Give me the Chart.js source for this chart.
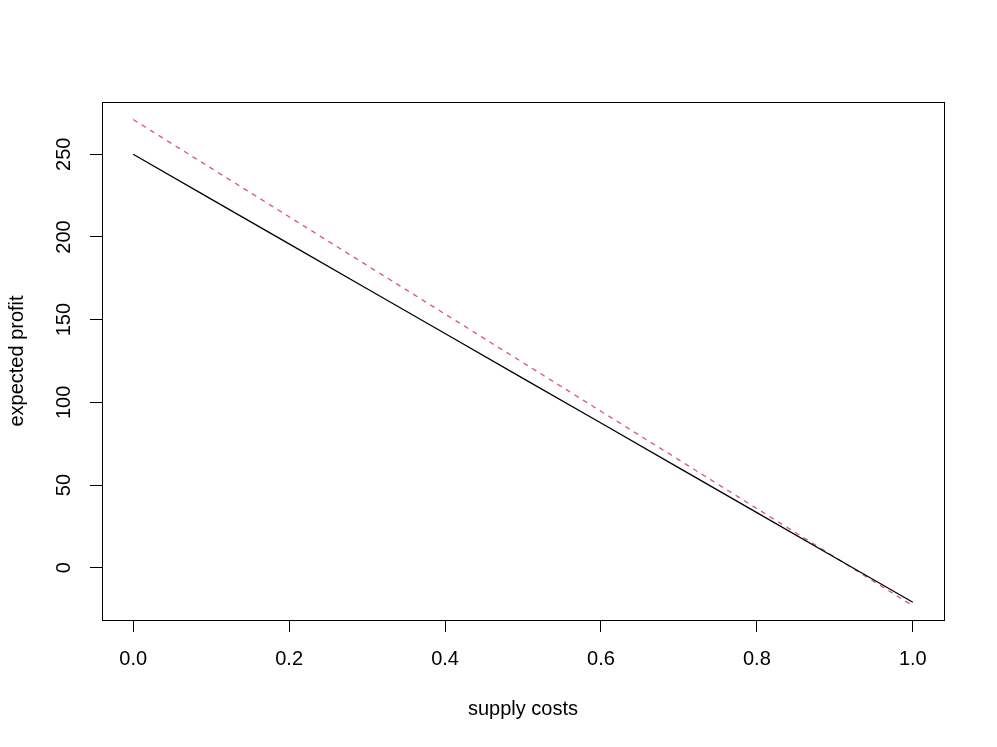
<!DOCTYPE html>
<html>
<head>
<meta charset="utf-8">
<script src="https://cdn.jsdelivr.net/npm/chart.js@4/dist/chart.umd.min.js"></script>
<style>
  html, body { margin: 0; padding: 0; background: #ffffff; }
  #wrap { width: 997px; height: 747px; }
</style>
</head>
<body>
<div id="wrap"><canvas id="c" width="997" height="747"></canvas></div>
<script>
// ---- data ----
const supplyCosts = [0.0, 0.1, 0.2, 0.3, 0.4, 0.5, 0.6, 0.7, 0.8, 0.9, 1.0];
const profitSolid = [250.0, 222.9, 195.8, 168.7, 141.6, 114.5, 87.5, 60.4, 33.3, 6.2, -20.9];
const profitDashed = [271.0, 241.6, 212.2, 182.8, 153.4, 124.0, 94.6, 65.2, 35.8, 6.4, -23.0];
const xTicks = [0.0, 0.2, 0.4, 0.6, 0.8, 1.0];
const yTicks = [0, 50, 100, 150, 200, 250];
const xTitle = 'supply costs';
const yTitle = 'expected profit';

const FONT = '"Liberation Sans", Arial, Helvetica, sans-serif';

const boxPlugin = {
  id: 'box',
  afterDraw(chart) {
    const {ctx, chartArea: a} = chart;
    ctx.save();
    ctx.strokeStyle = '#000';
    ctx.lineWidth = 1;
    ctx.strokeRect(Math.round(a.left) + 0.5, Math.round(a.top) + 0.5,
                   Math.round(a.right - a.left), Math.round(a.bottom - a.top));
    ctx.restore();
  }
};

new Chart(document.getElementById('c'), {
  type: 'line',
  data: {
    datasets: [
      {
        data: supplyCosts.map((x, i) => ({x, y: profitSolid[i]})),
        borderColor: '#000000',
        borderWidth: 1.3,
        pointRadius: 0,
        tension: 0,
        fill: false
      },
      {
        data: supplyCosts.map((x, i) => ({x, y: profitDashed[i]})),
        borderColor: '#DF536B',
        borderWidth: 1.3,
        borderDash: [5, 5],
        pointRadius: 0,
        tension: 0,
        fill: false
      }
    ]
  },
  options: {
    responsive: false,
    animation: false,
    devicePixelRatio: 1,
    layout: { padding: { left: 0, top: 102, right: 53, bottom: 0 } },
    plugins: { legend: { display: false }, tooltip: { enabled: false } },
    scales: {
      x: {
        type: 'linear',
        min: -0.04,
        max: 1.04,
        afterBuildTicks: s => { s.ticks = xTicks.map(v => ({value: v})); },
        afterFit: s => { s.height = 127; },
        border: { display: false },
        grid: { drawOnChartArea: false, drawTicks: true, tickLength: 12, color: '#000', lineWidth: 1 },
        ticks: {
          color: '#000',
          font: { family: FONT, size: 20 },
          padding: 15,
          maxRotation: 0,
          autoSkip: false,
          callback: v => Number(v).toFixed(1)
        },
        title: {
          display: true,
          text: xTitle,
          color: '#000',
          font: { family: FONT, size: 20 },
          padding: { top: 0, bottom: 26 }
        }
      },
      y: {
        type: 'linear',
        min: -31.6,
        max: 281.6,
        afterBuildTicks: s => { s.ticks = yTicks.map(v => ({value: v})); },
        afterFit: s => { s.width = 102; },
        border: { display: false },
        grid: { drawOnChartArea: false, drawTicks: true, tickLength: 12, color: '#000', lineWidth: 1 },
        ticks: {
          color: '#000',
          font: { family: FONT, size: 20 },
          padding: 9,
          minRotation: 90,
          maxRotation: 90,
          crossAlign: 'center',
          autoSkip: false,
          callback: v => String(v)
        },
        title: {
          display: true,
          text: yTitle,
          color: '#000',
          font: { family: FONT, size: 20 },
          padding: { top: 5, bottom: 0 }
        }
      }
    }
  },
  plugins: [boxPlugin]
});
</script>
</body>
</html>
